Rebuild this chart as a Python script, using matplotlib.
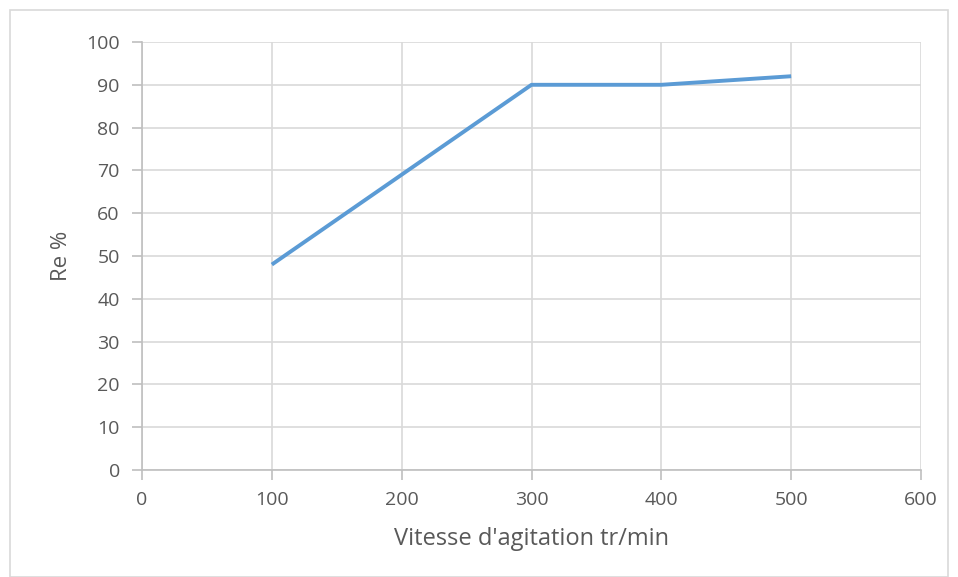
import matplotlib
matplotlib.use("Agg")
import matplotlib.pyplot as plt
from matplotlib.patches import Rectangle

# data
vitesse = [100, 200, 300, 400, 500]
rendement = [48, 69, 90, 90, 92]
x_ticks = [0, 100, 200, 300, 400, 500, 600]
y_ticks = [0, 10, 20, 30, 40, 50, 60, 70, 80, 90, 100]

plt.rcParams['font.family'] = ['Open Sans', 'DejaVu Sans']

fig = plt.figure(figsize=(9.58, 5.77), dpi=100)
ax = fig.add_axes([142 / 958, 107 / 577, 779 / 958, 428 / 577])

# frame around the whole chart
fig.patches.append(Rectangle((10 / 958, 0), 938 / 958, 567 / 577, transform=fig.transFigure,
                             fill=False, edgecolor='#d9d9d9', linewidth=1.2))

ax.plot(vitesse, rendement, color='#5b9bd5', linewidth=2.8, solid_capstyle='butt')

ax.set_xlim(0, 600)
ax.set_ylim(0, 100)
ax.set_xticks(x_ticks)
ax.set_yticks(y_ticks)
ax.grid(True, color='#d9d9d9', linewidth=1.2)
ax.set_axisbelow(True)
for s in ['top', 'right']:
    ax.spines[s].set_visible(False)
for s in ['left', 'bottom']:
    ax.spines[s].set_color('#bfbfbf')
    ax.spines[s].set_linewidth(1.2)
ax.tick_params(colors='#595959', labelsize=14, length=7, width=1.2, color='#bfbfbf')
ax.tick_params(axis='y', pad=9)
ax.tick_params(axis='x', pad=8)

ax.set_xlabel("Vitesse d'agitation tr/min", fontsize=17, color='#595959', labelpad=13)
ax.set_ylabel("Re %", fontsize=16, color='#595959', labelpad=10)

fig.savefig("out.png", dpi=100)
